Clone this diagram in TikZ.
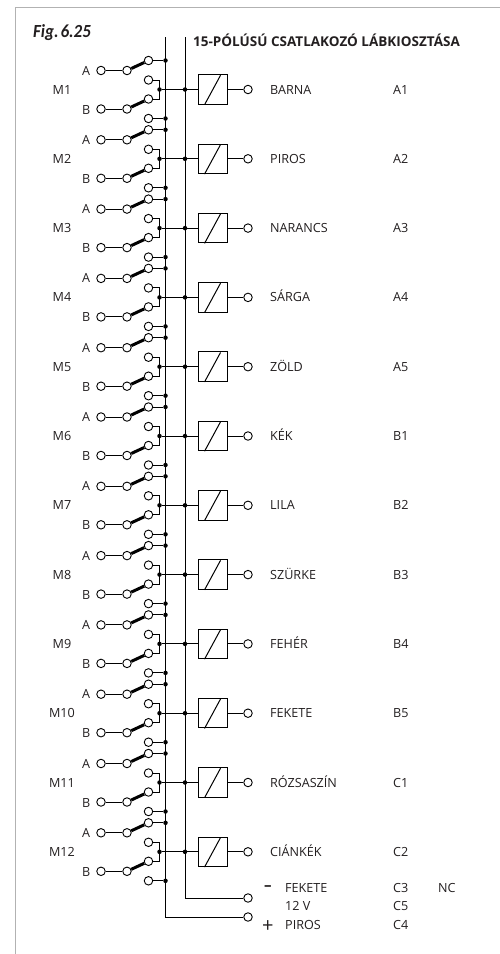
\documentclass[tikz,border=0pt]{standalone}
\usepackage{xcolor}
\usepackage{fontspec}
\setmainfont{Open Sans}
\newfontfamily\figfont{Carlito}
\usetikzlibrary{positioning}
\definecolor{framecolor}{RGB}{178, 178, 178}
\definecolor{labelcolor}{RGB}{35, 31, 32}
\tikzstyle{contact} = [circle, draw, fill=white, minimum size=8.5pt, inner sep=0pt, line width=0.9pt]
\tikzstyle{joint} = [circle, fill=black, minimum size=4.5pt, inner sep=0pt]
\tikzstyle{relay} = [rectangle, draw, minimum size=29.5pt, inner sep=0pt, line width=1pt]
\tikzstyle{wire} = [line width=1pt]
\tikzstyle{lever} = [line width=3pt]
\tikzstyle{lbl} = [anchor=base west, inner sep=0pt, text=labelcolor, font=\fontsize{12.6}{14}\selectfont]

\begin{document}
\begin{tikzpicture}[x=1pt, y=-1pt]
    \useasboundingbox (0,0) rectangle (500,954);
    \draw[framecolor, line width=1.2pt] (15.5,954) -- (15.5,7.5) -- (500,7.5);

    \node[anchor=base west, inner sep=0pt, text=labelcolor, xscale=0.92, font=\figfont\fontsize{18.5}{20}\selectfont\bfseries\itshape] (figlabel) at (33,37.5) {Fig.\hspace{2pt}6.25};
    \node[lbl, font=\fontsize{13.5}{15}\selectfont\bfseries] (title) at (193,46.5) {15-PÓLÚSÚ CSATLAKOZÓ LÁBKIOSZTÁSA};

    % the two supply rails
    \coordinate (topneg) at (165.5,37);
    \coordinate (toppos) at (185,37);
    \node[contact] (endpos) at (248,917) {};
    \node[contact] (endneg) at (248,898) {};
    \draw[wire] (topneg) |- (endpos);
    \draw[wire] (toppos) |- (endneg);

    \foreach \colour/\pin [count=\i from 1] in {BARNA/A1, PIROS/A2, NARANCS/A3, SÁRGA/A4, ZÖLD/A5, KÉK/B1,
                                               LILA/B2, SZÜRKE/B3, FEHÉR/B4, FEKETE/B5, RÓZSASZÍN/C1, CIÁNKÉK/C2} {
        \pgfmathsetmacro{\yc}{89.5+69.3*(\i-1)}
        \node[lbl, anchor=base] (motor\i) at (62,\yc+4.5) {M\i};

        \node[lbl] (lbla\i) at (82,\yc-14.5) {A};
        \node[lbl] (lblb\i) at (82,\yc+24.5) {B};
        \node[contact] (ina\i) at (101,\yc-19) {};
        \node[contact] (inb\i) at (101,\yc+19.5) {};
        \node[contact] (pivota\i) at (127,\yc-19) {};
        \node[contact] (pivotb\i) at (127,\yc+19.5) {};
        \node[contact] (closea\i) at (148.5,\yc-29) {};
        \node[contact] (opena\i) at (148.5,\yc-9.5) {};
        \node[contact] (closeb\i) at (148.5,\yc+9.5) {};
        \node[contact] (openb\i) at (148.5,\yc+29) {};

        \node[joint] (join\i) at (159.5,\yc) {};
        \node[joint] (tap\i) at (185,\yc) {};
        \node[joint] (rail\i) at (165.5,\yc-29) {};
        \node[joint] (raib\i) at (165.5,\yc+29) {};

        \node[relay] (box\i) at (212.8,\yc) {};
        \node[contact] (out\i) at (248,\yc) {};
        \node[lbl] (wire\i) at (270,\yc+4.5) {\colour};
        \node[lbl] (pin\i) at (393,\yc+4.5) {\pin};

        \draw[wire] (ina\i) -- (pivota\i);
        \draw[wire] (inb\i) -- (pivotb\i);
        \draw[lever] (pivota\i) -- (closea\i);
        \draw[lever] (pivotb\i) -- (closeb\i);
        \draw[wire] (closea\i) -- (rail\i);
        \draw[wire] (openb\i) -- (raib\i);
        \draw[wire] (opena\i) -| (join\i.center) |- (closeb\i);
        \draw[wire] (join\i) -- (tap\i) -- (box\i);
        \draw[wire] (box\i) -- (out\i);
        \draw[wire] (box\i.south west) ++(7,0) -- ++(16,-29.5);
    }

    \node[lbl, font=\fontsize{15}{15}\selectfont\bfseries] (minus) at (264,890) {–};
    \node[lbl, font=\fontsize{20}{20}\selectfont] (plus) at (262,932) {+};
    \node[lbl] (fekete) at (285,892.5) {FEKETE};
    \node[lbl] (volt) at (285,910.5) {12 V};
    \node[lbl] (piros) at (285,929.5) {PIROS};
    \node[lbl] (pinneg) at (393,892.5) {C3};
    \node[lbl] (pinvolt) at (393,910.5) {C5};
    \node[lbl] (pinpos) at (393,929.5) {C4};
    \node[lbl] (nc) at (438,892.5) {NC};
\end{tikzpicture}
\end{document}
